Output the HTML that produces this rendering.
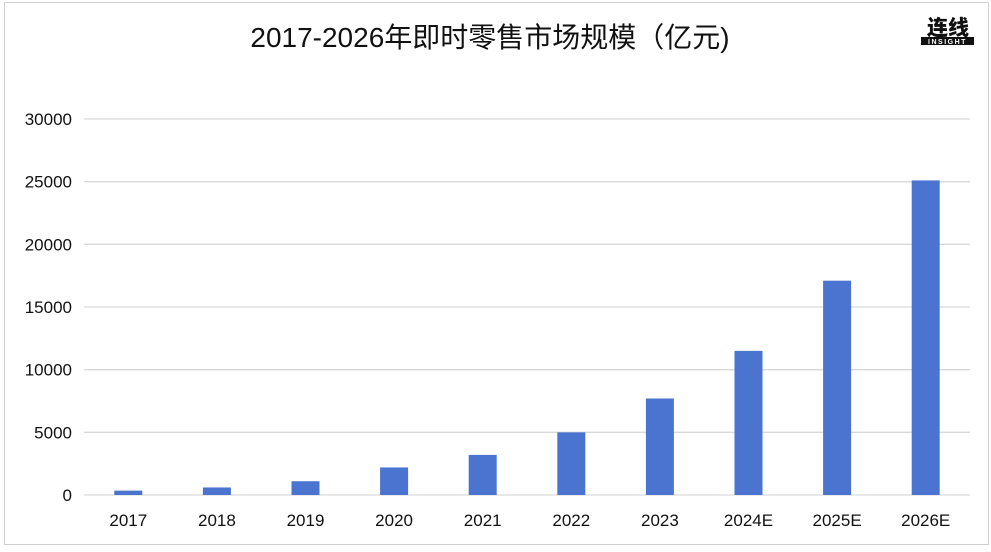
<!DOCTYPE html>
<html><head><meta charset="utf-8"><style>
body{margin:0;background:#fff;width:991px;height:547px;overflow:hidden;font-family:"Liberation Sans","Noto Sans CJK SC",sans-serif}
</style></head><body>
<svg width="991" height="547" xmlns="http://www.w3.org/2000/svg">
<rect x="4.5" y="2.5" width="984" height="542" fill="#fff" stroke="#d0d0d0"/>
<text x="490" y="47" text-anchor="middle" font-size="28" fill="#111" font-family="Liberation Sans,Noto Sans CJK SC,sans-serif">2017-2026年即时零售市场规模（亿元)</text>
<g>
<text x="948" y="35" text-anchor="middle" font-size="21" font-weight="900" fill="#111" font-family="Noto Sans CJK SC,sans-serif">连线</text>
<rect x="921" y="37" width="53" height="8" fill="#111"/>
<text x="947.5" y="44" text-anchor="middle" font-size="7" font-weight="bold" fill="#fff" letter-spacing="1.5">INSIGHT</text>
</g>
<g id="grid"></g><g id="bars"></g><g id="labels"></g>
</svg>
<script>
const categories=["2017","2018","2019","2020","2021","2022","2023","2024E","2025E","2026E"];
const values=[350,600,1100,2200,3200,5000,7700,11500,17100,25100];
const ticks=[0,5000,10000,15000,20000,25000,30000];
const NS="http://www.w3.org/2000/svg";
const x0=84,x1=970,y0=495,y1=119,ymax=30000;
const band=(x1-x0)/categories.length,bw=28;
function y(v){return y0-(v/ymax)*(y0-y1);}
function xc(i){return x0+band*(i+0.5);}
function mk(t,a,p){const e=document.createElementNS(NS,t);for(const k in a)e.setAttribute(k,a[k]);p.appendChild(e);return e;}
const g=document.getElementById('grid'),b=document.getElementById('bars'),l=document.getElementById('labels');
ticks.forEach(t=>{
 const ln=mk('line',{x1:x0,x2:x1,y1:y(t),y2:y(t),stroke:'#d9d9d9','stroke-width':1.3},g);
 
 
 const tx=mk('text',{x:72,y:y(t)+6,'text-anchor':'end','font-size':17,fill:'#111'},g);
 tx.textContent=t;
 
 
});
categories.forEach((c,i)=>{
 const r=mk('rect',{x:xc(i)-bw/2,y:y(values[i]),width:bw,height:y0-y(values[i]),fill:'#4a74cf'},b);
 
 
 const tx=mk('text',{x:xc(i),y:526,'text-anchor':'middle','font-size':17,fill:'#111'},l);
 tx.textContent=c;
 
 
});
</script>
</body></html>
